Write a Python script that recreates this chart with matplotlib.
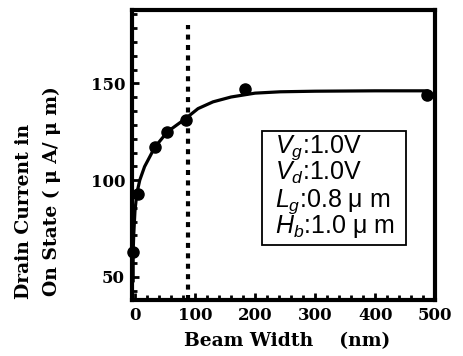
import matplotlib
matplotlib.use('Agg')
import matplotlib.pyplot as plt
from matplotlib.ticker import MultipleLocator, AutoMinorLocator
from matplotlib.patches import Rectangle

# measured points (beam width nm, drain current uA/um)
beam_width = [-3, 5, 33, 54, 85, 183, 486]
drain_current = [63, 93, 117, 125, 131, 147, 144]

# fitted curve
curve_x = [-3, -3, -2, 0, 3, 8, 16, 33, 54, 85, 105, 130, 160, 200, 242, 300, 400, 486]
curve_y = [48, 63, 72, 84, 93, 100, 107, 117, 125, 132, 137, 140.5, 143, 145, 145.7, 146, 146.2, 146.2]

marker_x = 88
box_lines = [r'$V_g$:1.0V', r'$V_d$:1.0V', r'$L_g$:0.8 μ m', r'$H_b$:1.0 μ m']

plt.rcParams['mathtext.fontset'] = 'custom'
plt.rcParams['mathtext.rm'] = 'Liberation Sans'
plt.rcParams['mathtext.it'] = 'Liberation Sans:italic'

fig = plt.figure(figsize=(4.63, 3.56), dpi=100)
ax = fig.add_axes([0.285, 0.157, 0.655, 0.815])

ax.plot(curve_x, curve_y, color='black', lw=2.3, zorder=3)
ax.plot(beam_width, drain_current, 'o', color='black', ms=8, zorder=4, clip_on=False)
ax.plot([marker_x, marker_x], [38, 180], color='black', lw=3,
        dashes=(1.2, 1.3), dash_capstyle='butt', zorder=2)

ax.set_xlim(-5, 500)
ax.set_ylim(38, 188)
ax.xaxis.set_major_locator(MultipleLocator(100))
ax.xaxis.set_minor_locator(MultipleLocator(20))
ax.yaxis.set_major_locator(MultipleLocator(50))
ax.yaxis.set_minor_locator(AutoMinorLocator(7))

for s in ax.spines.values():
    s.set_linewidth(3)

tick_font = {'family': 'DejaVu Serif', 'weight': 'bold', 'size': 12}
label_font = {'family': 'DejaVu Serif', 'weight': 'bold', 'size': 13.5}
ax.tick_params(which='both', direction='in', width=2, pad=5)
ax.tick_params(which='major', length=5)
ax.tick_params(which='minor', length=3.5)
for lab in ax.get_xticklabels() + ax.get_yticklabels():
    lab.set_fontproperties(tick_font)

ax.text(0.513, -0.14, 'Beam Width    (nm)', fontdict=label_font,
        transform=ax.transAxes, ha='center', va='center')
ax.text(-0.355, 0.307, 'Drain Current in', fontdict=label_font, rotation=90,
        transform=ax.transAxes, ha='center', va='center')
ax.text(-0.265, 0.376, 'On State ( μ A/ μ m)', fontdict=label_font, rotation=90,
        transform=ax.transAxes, ha='center', va='center')

# condition box
ax.add_patch(Rectangle((211, 66.5), 241, 59, transform=ax.transData,
                       fill=False, lw=1.3, color='black', zorder=5))
for i, t in enumerate(box_lines):
    ax.text(234, 114 - i * 13.8, t, fontsize=18, family='Liberation Sans',
            va='baseline', ha='left', zorder=6)

fig.savefig('out.png', dpi=100)
